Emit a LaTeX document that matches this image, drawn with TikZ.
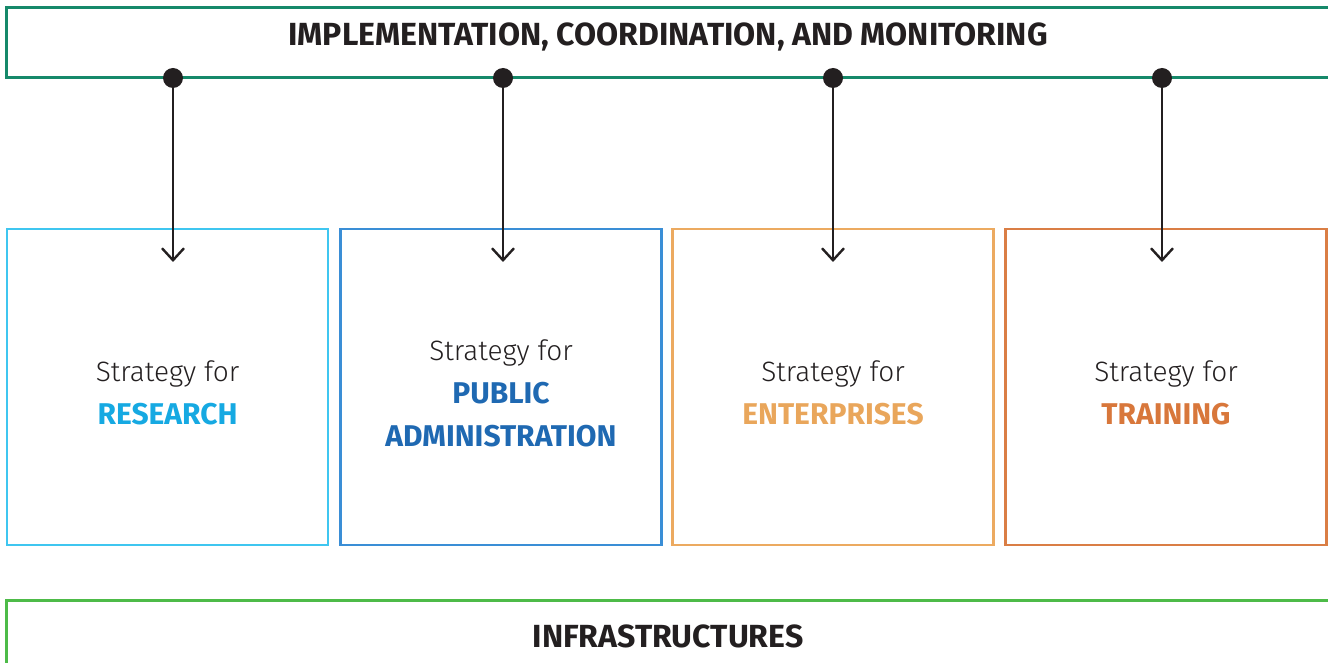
\documentclass[tikz,border=0pt]{standalone}
\usepackage{fontspec}
\setmainfont{Fira Sans}
\newfontfamily\lightfont{Fira Sans Light}
\usetikzlibrary{arrows.meta}

\definecolor{implgreen}{HTML}{16896A}
\definecolor{infragreen}{HTML}{4DBB48}
\definecolor{rescyan}{HTML}{3FC6F0}
\definecolor{restext}{HTML}{16A9E2}
\definecolor{pabox}{HTML}{3A8ED6}
\definecolor{patext}{HTML}{1F69B2}
\definecolor{entbox}{HTML}{ECAA60}
\definecolor{enttext}{HTML}{E9A65B}
\definecolor{trbox}{HTML}{DA7E45}
\definecolor{trtext}{HTML}{D8773B}
\definecolor{ink}{HTML}{231F20}

\newcommand{\leadin}{{\lightfont Strategy for}}
\newcommand{\keyword}[2]{{\bfseries\fontsize{15}{21.5}\selectfont\color{#1}#2}}

\tikzset{
  stratbox/.style={draw, line width=1.3pt, minimum width=160.5pt, minimum height=158pt,
    inner sep=0pt, align=center, text=ink, font=\fontsize{14}{21.5}\selectfont},
  boxtext/.style={align=center, text=ink, font=\fontsize{14}{21.5}\selectfont, inner sep=0pt},
  bartitle/.style={font=\bfseries\fontsize{16}{18}\selectfont, text=ink, inner sep=0pt},
  joint/.style={circle, fill=ink, inner sep=0pt, minimum size=10pt},
  link/.style={draw=ink, line width=1.2pt, -{Straight Barb[length=6pt, width=11pt, line width=1.2pt]}}
}

\begin{document}
\begin{tikzpicture}[x=0.5pt, y=-0.5pt]
  \useasboundingbox (0,0) rectangle (1328,663);

  % top bar, open to the right
  \draw[implgreen, line width=1.5pt] (1330,8) -- (6,8) -- (6,78) -- (1330,78);
  \node[bartitle] (impl) at (668,37) {IMPLEMENTATION, COORDINATION, AND MONITORING};

  % bottom bar, open to the right and below
  \draw[infragreen, line width=1.5pt] (6,670) -- (6,600) -- (1330,600);
  \node[bartitle] (infra) at (668,636) {INFRASTRUCTURES};

  % strategy boxes
  \node[stratbox, draw=rescyan] (b1) at (167.5,387) {};
  \node[stratbox, draw=pabox] (b2) at (501,387) {};
  \node[stratbox, draw=entbox] (b3) at (833,387) {};
  \node[stratbox, draw=trbox] (b4) at (1166,387) {};

  % box captions
  \node[boxtext] (c1) at ([yshift=-3pt]b1.center) {\leadin\\ \keyword{restext}{RESEARCH}};
  \node[boxtext] (c2) at ([yshift=-3pt]b2.center) {\leadin\\ \keyword{patext}{PUBLIC}\\ \keyword{patext}{ADMINISTRATION}};
  \node[boxtext] (c3) at ([yshift=-3pt]b3.center) {\leadin\\ \keyword{enttext}{ENTERPRISES}};
  \node[boxtext] (c4) at ([yshift=-3pt]b4.center) {\leadin\\ \keyword{trtext}{TRAINING}};

  % junctions on the top bar and arrows down into the boxes
  \foreach \i/\x in {1/173, 2/503, 3/833, 4/1162} {
    \node[joint] (j\i) at (\x,78) {};
    \coordinate (t\i) at (\x,262);
    \draw[link] (j\i.center) -- (t\i);
  }
\end{tikzpicture}
\end{document}
